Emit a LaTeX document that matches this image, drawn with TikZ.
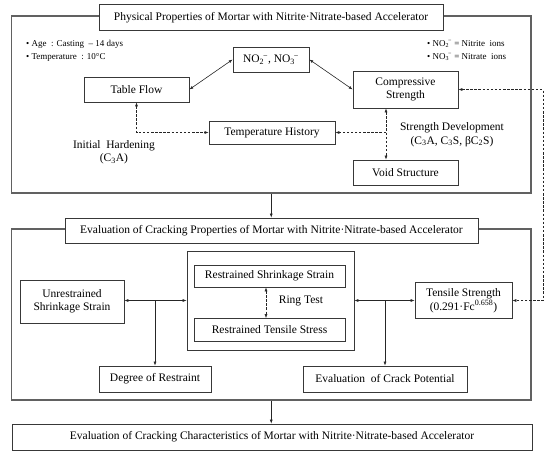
\documentclass[tikz,border=0pt]{standalone}
\usepackage{fontspec}
\setmainfont{Liberation Serif}
\usetikzlibrary{arrows.meta,positioning,calc}
\definecolor{frameline}{rgb}{0.38,0.38,0.38}
\definecolor{boxline}{rgb}{0.22,0.22,0.22}
\tikzset{
  box/.style={draw=boxline, line width=0.7pt, fill=white, align=center, inner sep=1pt},
  frame/.style={draw=frameline, line width=1.1pt, inner sep=0pt},
  note/.style={align=left, inner sep=0pt, font=\fontsize{9}{13}\selectfont},
  link/.style={line width=0.6pt, black!85},
  dlink/.style={line width=0.6pt, black!85, dash pattern=on 2.5pt off 1.6pt}
}
\newcommand{\nox}[1]{NO\textsubscript{#1}\kern-0.1em\textsuperscript{−}}
\newcommand{\sbs}[1]{\textsubscript{#1}}
\begin{document}
\begin{tikzpicture}[x=1pt, y=-1pt, font=\fontsize{11.5}{13.5}\selectfont,
    >={Latex[length=4pt,width=3pt]}]
  \useasboundingbox (0,0) rectangle (550,454);

  % outer frames
  \node[frame, minimum width=519.5pt, minimum height=177pt] (physframe) at (271.25,104.5) {};
  \node[frame, minimum width=519.5pt, minimum height=171pt] (crackframe) at (271.25,314.5) {};

  % titles
  \node[box, minimum width=344pt, minimum height=25.5pt] (phystitle) at (271,17.5)
    {Physical Properties of Mortar with Nitrite·Nitrate-based Accelerator};
  \node[box, minimum width=413pt, minimum height=25pt] (cracktitle) at (271.5,230.5)
    {Evaluation of Cracking Properties of Mortar with Nitrite·Nitrate-based Accelerator};
  \node[box, minimum width=520pt, minimum height=26pt] (final) at (272,437)
    {Evaluation of Cracking Characteristics of Mortar with Nitrite·Nitrate-based Accelerator};

  % notes
  \node[note, anchor=west] (cond) at (26,50.5)
    {• Age \ : Casting \ – 14 days\\• Temperature \ : 10°C};
  \node[note, anchor=west] (ions) at (427,50.5)
    {• \nox{2} = Nitrite \ ions\\• \nox{3} = Nitrate \ ions};

  % physical properties
  \node[box, minimum width=76pt, minimum height=25pt] (ion) at (271,59.5) {\nox{2}, \nox{3}};
  \node[box, minimum width=105pt, minimum height=25pt] (flow) at (136.5,89.5) {Table Flow};
  \node[box, minimum width=105pt, minimum height=37pt] (comp) at (405.5,89.5) {Compressive\\Strength};
  \node[box, minimum width=126pt, minimum height=23pt] (temp) at (272,132.5) {Temperature History};
  \node[box, minimum width=105pt, minimum height=25pt] (void) at (405.5,172.5) {Void Structure};
  \node[align=center, inner sep=0pt] (hard) at (114,152) {Initial \ Hardening\\(C\sbs{3}A)};
  \node[align=center, inner sep=0pt] (develop) at (452,134.5) {Strength Development\\(C\sbs{3}A, C\sbs{3}S, βC\sbs{2}S)};
  \coordinate (branch) at (386,132.5);
  \coordinate (rail) at (543,200);

  \draw[link, <->] (ion.west) -- (flow.east);
  \draw[link, <->] (ion.east) -- (comp.west);
  \draw[dlink, <->] (flow.south) |- (temp.west);
  \draw[dlink, <->] ([xshift=-19.5pt]comp.south) -- ([xshift=-19.5pt]void.north);
  \draw[dlink, ->] (branch) -- (temp.east);

  % cracking properties
  \node[box, minimum width=167pt, minimum height=99pt] (ring) at (270.5,300.5) {};
  \node[box, minimum width=151pt, minimum height=22pt] (rss) at (269.5,276) {Restrained Shrinkage Strain};
  \node[box, minimum width=151pt, minimum height=23pt] (rts) at (269.5,330) {Restrained Tensile Stress};
  \node[inner sep=0pt] (ringtest) at (301,300.5) {Ring Test};
  \node[box, minimum width=104pt, minimum height=43pt] (unr) at (72,301.5) {Unrestrained\\Shrinkage Strain};
  \node[box, minimum width=97pt, minimum height=36pt] (tens) at (463.5,300.5) {Tensile Strength\\(0.291·Fc\textsuperscript{0.658})};
  \node[box, minimum width=112pt, minimum height=26pt] (degree) at (155,379) {Degree of Restraint};
  \node[box, minimum width=164pt, minimum height=26pt] (potential) at (385,379) {Evaluation \ of Crack Potential};

  \draw[dlink, <->] (comp.east) -| (rail) |- (tens.east);
  \draw[dlink, <->] ([xshift=-3.5pt]rss.south) -- ([xshift=-3.5pt]rts.north);
  \draw[link, <->] (unr.east |- ring.west) -- (ring.west);
  \draw[link, <->] (ring.east) -- (tens.west |- ring.east);
  \draw[link, ->] (ring.west -| degree.north) -- (degree.north);
  \draw[link, ->] (ring.east -| potential.north) -- (potential.north);

  % flow between sections
  \draw[link, ->] (physframe.south) -- (physframe.south |- cracktitle.north);
  \draw[link, ->] (crackframe.south) -- (crackframe.south |- final.north);
\end{tikzpicture}
\end{document}
